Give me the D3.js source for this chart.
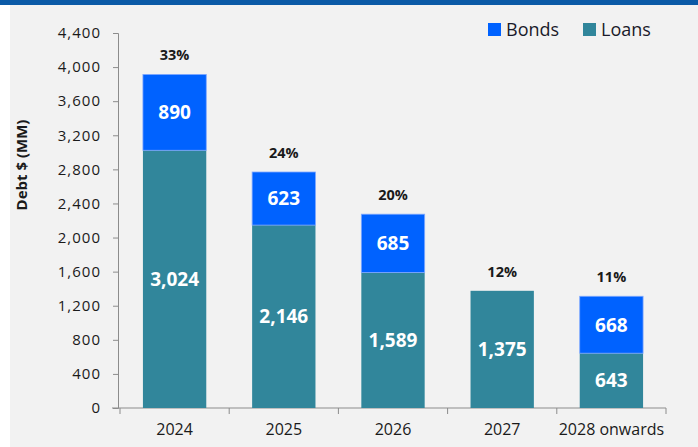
<!DOCTYPE html>
<html><head><meta charset="utf-8">
<script src="https://cdn.jsdelivr.net/npm/d3@7"></script>
<style>
html,body{margin:0;padding:0;background:#fff;}
svg{display:block;font-family:"Open Sans",sans-serif;}
</style></head><body>
<svg id="c" width="698" height="447"></svg>
<script>
const categories = ["2024","2025","2026","2027","2028 onwards"];
const loans = [3024, 2146, 1589, 1375, 643];
const bonds = [890, 623, 685, 0, 668];
const percents = ["33%","24%","20%","12%","11%"];
const yTicks = [0,400,800,1200,1600,2000,2400,2800,3200,3600,4000,4400];
const seriesNames = ["Bonds","Loans"];
const colors = {Bonds:"#0062FF", Loans:"#31869B"};

const svg = d3.select("#c");
svg.append("rect").attr("x",10).attr("y",5).attr("width",688).attr("height",442).attr("fill","#F2F2F2");
svg.append("rect").attr("x",0).attr("y",0).attr("width",698).attr("height",5).attr("fill","#0B5AA7");

const x = d3.scaleBand().domain(categories).range([120,666]).paddingInner(0.42).paddingOuter(0.21);
const y = d3.scaleLinear().domain([0,4400]).range([408,33]);

// y axis
const ya = svg.append("g").attr("transform","translate(118,0)")
  .call(d3.axisLeft(y).tickValues(yTicks).tickFormat(d3.format(",")).tickSizeOuter(0).tickSize(5).tickPadding(12));
ya.select(".domain").attr("stroke","#8c8c8c");
ya.selectAll(".tick line").attr("stroke","#8c8c8c");
ya.selectAll(".tick text").attr("font-size",15).attr("fill","#1a1a1a").attr("letter-spacing","1px").attr("font-family","Open Sans");

// x axis
const xa = svg.append("g").attr("transform","translate(0,408)")
  .call(d3.axisBottom(x).tickSize(0).tickPadding(12));
xa.select(".domain").attr("stroke","#8c8c8c").attr("d","M112,0H666");
xa.selectAll(".tick text").attr("font-size",16).attr("fill","#1a1a1a").attr("dy","0.95em").attr("font-family","Open Sans");
// category boundary ticks
const bounds = d3.range(categories.length + 1).map(i => x.range()[0] + i*x.step());
svg.append("g").selectAll("line").data(bounds).join("line")
  .attr("x1",d=>d).attr("x2",d=>d).attr("y1",408).attr("y2",414).attr("stroke","#8c8c8c");

// bars
const g = svg.append("g");
categories.forEach((c,i)=>{
  const bx = x(c), bw = x.bandwidth();
  g.append("rect").attr("x",bx).attr("y",y(loans[i])).attr("width",bw).attr("height",y(0)-y(loans[i])).attr("fill",colors.Loans);
  if (bonds[i]>0){
    g.append("rect").attr("x",bx).attr("y",y(loans[i]+bonds[i])).attr("width",bw).attr("height",y(loans[i])-y(loans[i]+bonds[i]))
      .attr("fill",colors.Bonds).attr("stroke","#7fa8ff").attr("stroke-width",0.8);
    g.append("text").attr("x",bx+bw/2).attr("y",(y(loans[i])+y(loans[i]+bonds[i]))/2).attr("dy","0.36em")
      .attr("text-anchor","middle").attr("fill","#fff").attr("font-weight","bold").attr("font-size",19).text(d3.format(",")(bonds[i]));
  }
  g.append("text").attr("x",bx+bw/2).attr("y",(y(0)+y(loans[i]))/2).attr("dy","0.36em")
    .attr("text-anchor","middle").attr("fill","#fff").attr("font-weight","bold").attr("font-size",19).text(d3.format(",")(loans[i]));
  g.append("text").attr("x",bx+bw/2).attr("y",y(loans[i]+bonds[i])-14)
    .attr("text-anchor","middle").attr("fill","#1a1a1a").attr("font-weight","bold").attr("font-size",14.5).text(percents[i]);
});

// y title
svg.append("text").attr("transform","translate(27,165) rotate(-90)").attr("text-anchor","middle")
  .attr("font-weight","bold").attr("font-size",15).attr("fill","#1a1a1a").text("Debt $ (MM)");

// legend
const legX = [488, 583];
seriesNames.forEach((s,i)=>{
  svg.append("rect").attr("x",legX[i]).attr("y",23).attr("width",13).attr("height",13).attr("fill",colors[s]);
  svg.append("text").attr("x",legX[i]+18).attr("y",30).attr("dy","0.36em").attr("font-size",18).attr("fill","#1a1a2a").text(s);
});
</script>
</body></html>
